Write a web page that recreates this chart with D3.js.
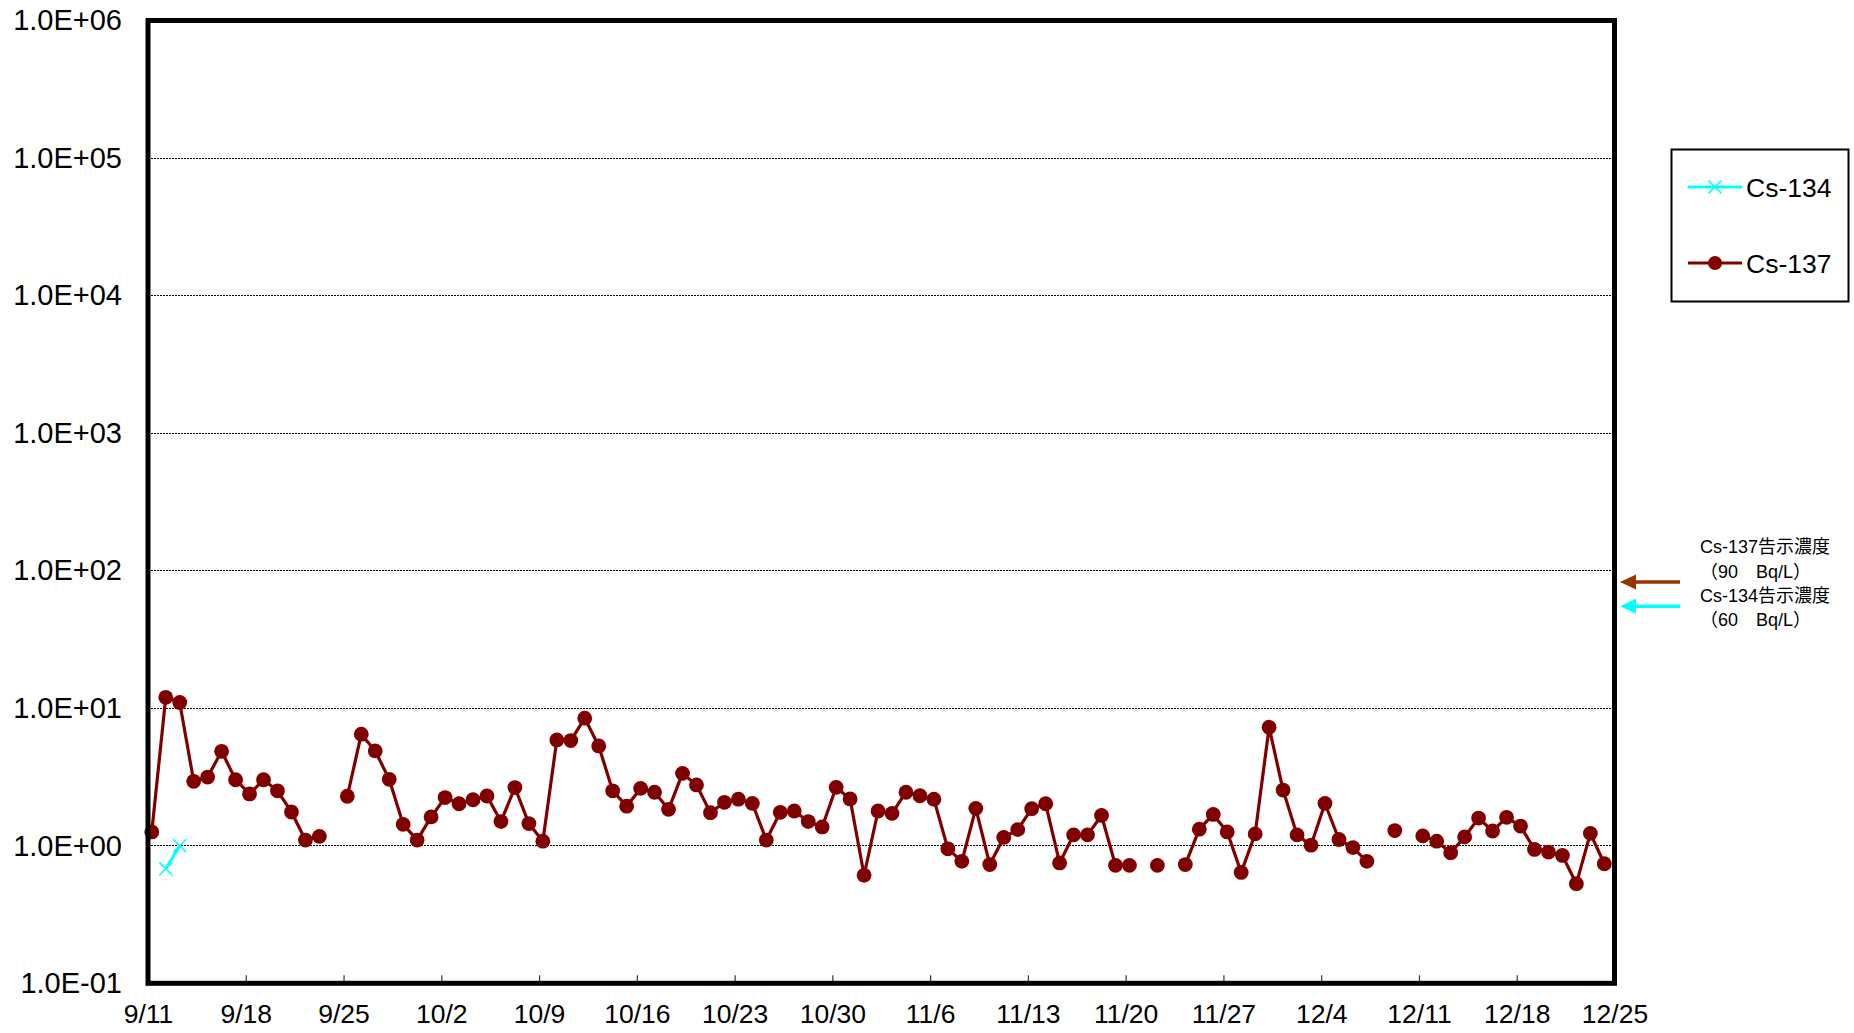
<!DOCTYPE html>
<html>
<head>
<meta charset="utf-8">
<script src="https://cdn.jsdelivr.net/npm/d3@7"></script>
<style>
  html, body { margin: 0; padding: 0; background: #fff; }
  svg { display: block; font-family: "Liberation Sans", Arial, "Noto Sans CJK JP", sans-serif; }
</style>
</head>
<body>
<svg id="chart" width="1854" height="1033"></svg>
<script>
// ---------------- DATA ----------------
const year = 2013;
const sampleHour = 6.5; // samples taken in the morning of each day

const cs137Dates = [
  "9/11","9/12","9/13","9/14","9/15","9/16","9/17","9/18","9/19","9/20",
  "9/21","9/22","9/23","9/24","9/25","9/26","9/27","9/28","9/29","9/30",
  "10/1","10/2","10/3","10/4","10/5","10/6","10/7","10/8","10/9","10/10",
  "10/11","10/12","10/13","10/14","10/15","10/16","10/17","10/18","10/19","10/20",
  "10/21","10/22","10/23","10/24","10/25","10/26","10/27","10/28","10/29","10/30",
  "10/31","11/1","11/2","11/3","11/4","11/5","11/6","11/7","11/8","11/9",
  "11/10","11/11","11/12","11/13","11/14","11/15","11/16","11/17","11/18","11/19",
  "11/20","11/21","11/22","11/23","11/24","11/25","11/26","11/27","11/28","11/29",
  "11/30","12/1","12/2","12/3","12/4","12/5","12/6","12/7","12/8","12/9",
  "12/10","12/11","12/12","12/13","12/14","12/15","12/16","12/17","12/18","12/19",
  "12/20","12/21","12/22","12/23","12/24"
];
const cs137Values = [
  1.26, 12.0, 11.0, 2.94, 3.16, 4.86, 3.02, 2.38, 3.02, 2.51,
  1.76, 1.10, 1.17, null, 2.29, 6.47, 4.89, 3.04, 1.43, 1.10,
  1.62, 2.24, 2.02, 2.16, 2.30, 1.50, 2.65, 1.45, 1.08, 5.88,
  5.82, 8.46, 5.32, 2.51, 1.94, 2.61, 2.45, 1.84, 3.36, 2.77,
  1.74, 2.07, 2.18, 2.03, 1.10, 1.75, 1.79, 1.50, 1.37, 2.66,
  2.19, 0.61, 1.79, 1.72, 2.45, 2.31, 2.18, 0.95, 0.77, 1.87,
  0.73, 1.15, 1.31, 1.86, 2.02, 0.75, 1.20, 1.20, 1.66, 0.72,
  0.72, null, 0.72, null, 0.73, 1.32, 1.69, 1.26, 0.64, 1.22,
  7.27, 2.54, 1.20, 1.01, 2.03, 1.11, 0.97, 0.77, null, 1.29,
  null, 1.18, 1.08, 0.89, 1.16, 1.59, 1.28, 1.61, 1.39, 0.94,
  0.90, 0.85, 0.53, 1.23, 0.74
];

const cs134Dates = ["9/12", "9/13"];
const cs134Values = [0.68, 1.0];

const xTickDates  = ["9/11","9/18","9/25","10/2","10/9","10/16","10/23","10/30","11/6","11/13","11/20","11/27","12/4","12/11","12/18","12/25"];
const yTickValues = [0.1, 1, 10, 100, 1000, 10000, 100000, 1000000];
const yTickLabels = ["1.0E-01","1.0E+00","1.0E+01","1.0E+02","1.0E+03","1.0E+04","1.0E+05","1.0E+06"];

const seriesNames = ["Cs-134", "Cs-137"];
const limitLabels = [["Cs-137告示濃度", "（90　Bq/L）"], ["Cs-134告示濃度", "（60　Bq/L）"]];
const limitValues = [90, 60];

// ---------------- HELPERS ----------------
function parseDay(s, withHour) {
  const [m, d] = s.split("/").map(Number);
  const dt = new Date(year, m - 1, d);
  if (withHour) dt.setMinutes(sampleHour * 60);
  return dt;
}

const colors = { cs134: "#00FFFF", cs137: "#800000", arrow137: "#993300", arrow134: "#00FFFF" };

// ---------------- LAYOUT ----------------
const plot = { left: 148, right: 1614.5, top: 20.5, bottom: 983.3 };

const svg = d3.select("#chart");

const x = d3.scaleTime()
  .domain([parseDay("9/11", false), parseDay("12/25", false)])
  .range([plot.left, plot.right]);

const y = d3.scaleLog()
  .domain([0.1, 1000000])
  .range([plot.bottom, plot.top]);

// gridlines
svg.append("g")
  .selectAll("line")
  .data(yTickValues.filter(v => v > 0.1 && v < 1000000))
  .join("line")
  .attr("x1", plot.left).attr("x2", plot.right)
  .attr("y1", d => y(d)).attr("y2", d => y(d))
  .attr("stroke", "#000")
  .attr("stroke-width", 1)
  .attr("stroke-dasharray", "2,1")
  .attr("shape-rendering", "crispEdges");

// x axis
const xAxis = d3.axisBottom(x)
  .tickValues(xTickDates.map(s => parseDay(s, false)))
  .tickFormat((d, i) => xTickDates[i])
  .tickSize(-8)
  .tickPadding(21);

const gx = svg.append("g")
  .attr("transform", `translate(0,${plot.bottom})`)
  .call(xAxis);
gx.select(".domain").remove();
gx.selectAll(".tick line").attr("stroke", "#333").attr("stroke-width", 1.2);
gx.selectAll(".tick text")
  .attr("font-size", 26.5)
  .attr("fill", "#000")
  .attr("font-family", "'Liberation Sans', Arial, sans-serif")
  .attr("y", 21);

// y axis
const yAxis = d3.axisLeft(y)
  .tickValues(yTickValues)
  .tickFormat((d, i) => yTickLabels[i])
  .tickSize(0)
  .tickPadding(26);

const gy = svg.append("g")
  .attr("transform", `translate(${plot.left},0)`)
  .call(yAxis);
gy.select(".domain").remove();
gy.selectAll(".tick text")
  .attr("font-size", 29)
  .attr("fill", "#000")
  .attr("font-family", "'Liberation Sans', Arial, sans-serif");

// series data
const cs137 = cs137Dates.map((s, i) => ({ date: parseDay(s, true), v: cs137Values[i] }));
const cs134 = cs134Dates.map((s, i) => ({ date: parseDay(s, true), v: cs134Values[i] }));

const line = d3.line()
  .defined(d => d.v != null)
  .x(d => x(d.date))
  .y(d => y(d.v));

// Cs-134 line + x markers
svg.append("path")
  .datum(cs134)
  .attr("fill", "none")
  .attr("stroke", colors.cs134)
  .attr("stroke-width", 3)
  .attr("d", line);

const xMarker = (sel, size) => sel.append("path")
  .attr("d", `M${-size},${-size}L${size},${size}M${-size},${size}L${size},${-size}`)
  .attr("stroke", colors.cs134)
  .attr("stroke-width", 1.6)
  .attr("fill", "none");

svg.append("g").selectAll("g")
  .data(cs134.filter(d => d.v != null))
  .join("g")
  .attr("transform", d => `translate(${x(d.date)},${y(d.v)})`)
  .each(function () { xMarker(d3.select(this), 6.5); });

// Cs-137 line + circle markers
svg.append("path")
  .datum(cs137)
  .attr("fill", "none")
  .attr("stroke", colors.cs137)
  .attr("stroke-width", 3.2)
  .attr("stroke-linejoin", "round")
  .attr("d", line);

svg.append("g").selectAll("circle")
  .data(cs137.filter(d => d.v != null))
  .join("circle")
  .attr("cx", d => x(d.date))
  .attr("cy", d => y(d.v))
  .attr("r", 7.4)
  .attr("fill", colors.cs137);

// frame
svg.append("rect")
  .attr("x", plot.left).attr("y", plot.top)
  .attr("width", plot.right - plot.left)
  .attr("height", plot.bottom - plot.top)
  .attr("fill", "none")
  .attr("stroke", "#000")
  .attr("stroke-width", 5);

// legend
const lg = svg.append("g");
lg.append("rect")
  .attr("x", 1671.5).attr("y", 149.5)
  .attr("width", 177).attr("height", 152)
  .attr("fill", "#fff")
  .attr("stroke", "#000")
  .attr("stroke-width", 2);

const legendRows = [
  { name: seriesNames[0], color: colors.cs134, ly: 187, marker: "x" },
  { name: seriesNames[1], color: colors.cs137, ly: 263, marker: "o" }
];
legendRows.forEach(r => {
  lg.append("line")
    .attr("x1", 1688).attr("x2", 1742)
    .attr("y1", r.ly).attr("y2", r.ly)
    .attr("stroke", r.color).attr("stroke-width", 3);
  if (r.marker === "x") {
    xMarker(lg.append("g").attr("transform", `translate(1715,${r.ly})`), 6.5);
  } else {
    lg.append("circle").attr("cx", 1715).attr("cy", r.ly).attr("r", 7).attr("fill", r.color);
  }
  lg.append("text")
    .attr("x", 1746).attr("y", r.ly)
    .attr("dy", "0.36em")
    .attr("font-size", 26.5)
    .attr("fill", "#000")
    .text(r.name);
});

// limit annotations (arrows pointing to the regulatory concentration levels)
const ann = svg.append("g");
const arrowColors = [colors.arrow137, colors.arrow134];
limitValues.forEach((v, i) => {
  const ay = y(v) + 5;
  ann.append("line")
    .attr("x1", 1680).attr("x2", 1632)
    .attr("y1", ay).attr("y2", ay)
    .attr("stroke", arrowColors[i]).attr("stroke-width", 3.5);
  ann.append("path")
    .attr("d", `M1620,${ay}L1636,${ay - 7.5}L1636,${ay + 7.5}Z`)
    .attr("fill", arrowColors[i]);
});
const annLines = limitLabels.flat();
const annY = [546.5, 572, 596, 620];
annLines.forEach((t, i) => {
  ann.append("text")
    .attr("x", 1700)
    .attr("y", annY[i])
    .attr("dy", "0.35em")
    .attr("font-size", 18)
    .attr("fill", "#000")
    .attr("font-family", "'Liberation Sans', Arial, 'Noto Sans CJK JP', sans-serif")
    .text(t);
});
</script>
</body>
</html>
